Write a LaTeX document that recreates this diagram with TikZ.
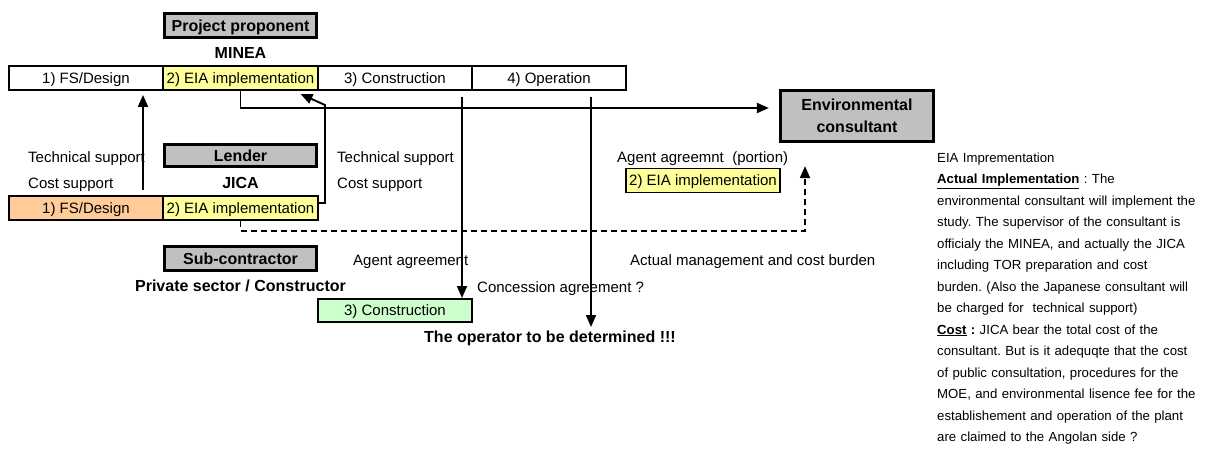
\documentclass[tikz,border=0pt]{standalone}
\usepackage{fontspec}
\setmainfont{Liberation Sans}
\usetikzlibrary{arrows.meta}
\definecolor{boxgray}{HTML}{C0C0C0}
\definecolor{eiayellow}{HTML}{FFFF99}
\definecolor{fsorange}{HTML}{FFCC99}
\definecolor{congreen}{HTML}{CCFFCC}
\frenchspacing
\begin{document}
\begin{tikzpicture}[x=1pt,y=-1pt,
  cell/.style={draw, line width=1.9pt, minimum width=154pt, minimum height=24pt,
    inner sep=0pt, font=\fontsize{15}{18}\selectfont, text height=10.8pt, text depth=0pt},
  head/.style={draw, line width=3.2pt, fill=boxgray, minimum width=152pt, inner sep=0pt,
    font=\bfseries\fontsize{16}{19}\selectfont, text height=11.5pt, text depth=0pt},
  lbl/.style={anchor=base west, inner sep=0pt, font=\fontsize{15}{18}\selectfont},
  blbl/.style={anchor=base, inner sep=0pt, font=\bfseries\fontsize{16}{19}\selectfont},
  arr/.style={line width=1.9pt, -{Triangle[length=12pt,width=10pt]}},
  dasharr/.style={arr, dash pattern=on 6pt off 4pt}]
\useasboundingbox (0,0) rectangle (1205,455);

% project stages of the proponent
\node[cell] (fs1)  at (86,78)    {1) FS/Design};
\node[cell, fill=eiayellow, minimum width=155pt] (eia1) at (240.5,78) {2) EIA implementation};
\node[cell] (con1) at (395,78)   {3) Construction};
\node[cell] (op1)  at (549,78)   {4) Operation};

% actors
\node[head, minimum height=24.5pt] (pp) at (240.5,25.5) {Project proponent};
\node[blbl] (minea) at (240.5,58.7) {MINEA};

\node[head, minimum height=22pt] (lender) at (240.5,155.5) {Lender};
\node[blbl] (jica) at (240.5,188.7) {JICA};

\node[head, minimum height=24pt] (sub) at (240.5,258.5) {Sub-contractor};
\node[blbl] (priv) at (240.5,291.7) {Private sector / Constructor};

\node[head, minimum width=153pt, minimum height=51pt, align=center,
  font=\bfseries\fontsize{16}{22}\selectfont, text height=] (env) at (857,116)
  {Environmental\\consultant};

% stages handled by the lender, consultant and constructor
\node[cell, fill=fsorange] (fs2) at (86,208) {1) FS/Design};
\node[cell, fill=eiayellow, minimum width=155pt] (eia2) at (240.5,208) {2) EIA implementation};
\node[cell, fill=eiayellow] (eia3) at (703,180.5) {2) EIA implementation};
\node[cell, fill=congreen, minimum height=23pt] (con2) at (395,310.5) {3) Construction};

% labels
\node[lbl] (ts1) at (28,162.4) {Technical support};
\node[lbl] (cs1) at (28,188.4) {Cost support};
\node[lbl] (ts2) at (337,162.4) {Technical support};
\node[lbl] (cs2) at (337,188.4) {Cost support};
\node[lbl] (agp) at (617,162.4) {Agent agreemnt\ \ (portion)};
\node[lbl] (aga) at (353,265.4) {Agent agreement};
\node[lbl] (amc) at (630,265.4) {Actual management and cost burden};
\node[lbl] (conc) at (477,292.2) {Concession agreement ?};
\node[blbl] (oper) at (550,342.7) {The operator to be determined !!!};

% explanatory note
\node[anchor=north west, inner sep=0pt, text width=268pt, align=left,
  font=\fontsize{13.2}{21.5}\selectfont] (note) at (937,152.3)
  {EIA Imprementation\\
   \textbf{\underline{Actual Implementation}} : The\\
   environmental consultant will implement the\\
   study. The supervisor of the consultant is\\
   officialy the MINEA, and actually the JICA\\
   including TOR preparation and cost\\
   burden. (Also the Japanese consultant will\\
   be charged for\ \ technical support)\\
   \textbf{\underline{Cost}} \textbf{:} JICA bear the total cost of the\\
   consultant. But is it adequqte that the cost\\
   of public consultation, procedures for the\\
   MOE, and environmental lisence fee for the\\
   establishement and operation of the plant\\
   are claimed to the Angolan side ?};

% connectors
\coordinate (envin) at ([xshift=-10pt,yshift=8pt]env.west);
\coordinate (eiatip) at ([xshift=60pt,yshift=-3pt]eia1.south);
\coordinate (envtip) at ([xshift=-52pt,yshift=-23pt]env.south);
\coordinate (opertip) at (591,327);

\draw[arr] (eia1.south) |- (envin);
\draw[arr] ([yshift=5pt]eia2.east) -- ++(6,0) -- ++(0,-98) -- (eiatip);
\draw[arr] ([xshift=57pt,yshift=5pt]fs2.north) -- ([xshift=57pt,yshift=-4pt]fs1.south);
\draw[dasharr] (eia2.south) -- ++(0,10) -| (envtip);
\draw[arr] ([xshift=67pt,yshift=-6pt]con1.south) -- ([xshift=67pt]con2.north);
\draw[arr] ([xshift=42pt,yshift=-6pt]op1.south) -- (opertip);
\end{tikzpicture}
\end{document}
